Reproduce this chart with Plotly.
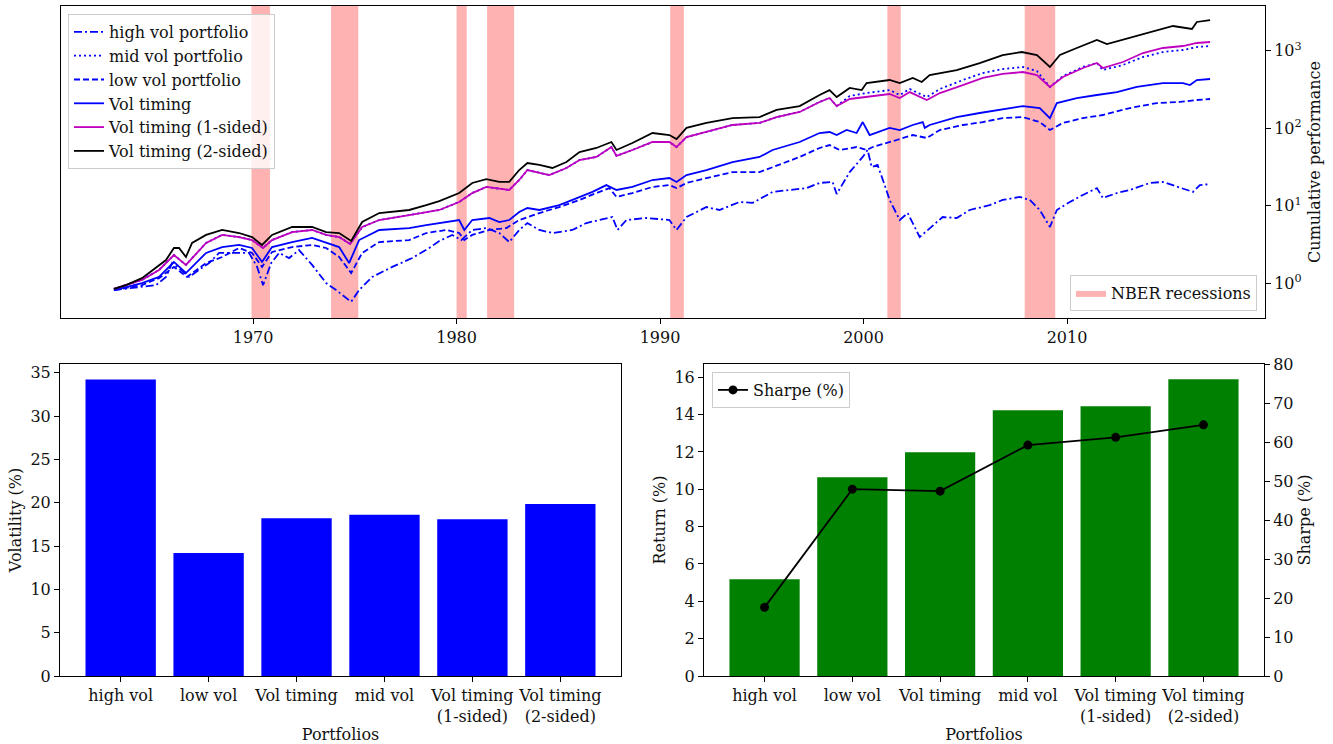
import plotly.graph_objects as go

# ---------------- data: cumulative performance (top panel) ----------------
hv_t = [1963.16,1964.54,1965.23,1965.72,1966.02,1966.46,1966.85,1967.34,1967.84,1968.33,1968.97,1969.80,1970.20,1970.49,1970.89,1971.28,1971.77,1972.26,1972.90,1973.59,1974.08,1974.48,1974.82,1975.21,1975.85,1976.84,1977.82,1978.66,1979.15,1979.79,1980.23,1980.77,1981.46,1982.10,1982.59,1983.08,1983.48,1984.07,1984.71,1985.69,1986.38,1987.02,1987.66,1987.91,1988.35,1989.33,1990.46,1990.81,1991.30,1992.28,1992.92,1993.91,1994.55,1995.53,1996.51,1997.20,1997.84,1998.48,1998.68,1999.32,1999.96,2000.20,2000.40,2000.69,2001.04,2001.28,2001.78,2002.17,2002.76,2003.25,2003.89,2004.58,2005.22,2006.20,2006.84,2007.68,2008.17,2008.66,2009.16,2009.50,2010.14,2010.78,2011.47,2011.76,2012.45,2013.09,2014.07,2014.71,2015.70,2016.19,2016.53,2017.03]
hv_v = [0.82,0.90,0.95,1.21,1.83,1.49,1.21,1.49,1.83,2.47,2.47,2.47,1.63,0.95,1.83,2.47,2.12,2.69,1.73,1.01,0.82,0.67,0.58,0.82,1.21,1.63,2.12,2.86,3.52,4.21,3.62,4.88,5.17,4.46,3.41,4.88,6.00,4.88,4.46,4.88,6.00,6.56,7.17,4.88,6.56,6.96,6.56,4.88,7.17,9.64,8.83,11.2,10.9,15.1,16.0,16.9,19.7,20.3,14.2,27.2,42.6,52.4,31.6,33.6,18.5,11.9,6.56,8.07,3.96,5.17,7.17,6.96,8.83,10.2,11.9,13.0,11.9,8.83,5.33,8.83,11.2,13.8,16.9,12.6,14.6,16.0,19.7,20.3,16.9,15.1,18.5,19.1]

one_t = [1963.16,1964.54,1965.38,1966.11,1966.70,1967.69,1968.48,1969.31,1969.95,1970.49,1970.93,1971.92,1972.90,1973.59,1974.23,1974.77,1975.36,1976.20,1977.67,1978.51,1979.15,1980.13,1980.77,1981.46,1982.59,1983.08,1983.48,1984.56,1985.40,1986.04,1986.87,1987.61,1987.86,1988.64,1989.63,1990.46,1990.81,1991.30,1992.28,1993.56,1994.89,1995.73,1996.86,1997.84,1998.33,1998.68,1999.32,2000.15,2001.28,2001.78,2002.27,2003.11,2003.75,2004.88,2005.86,2006.84,2007.83,2008.52,2009.16,2009.80,2010.78,2011.47,2011.76,2012.75,2013.73,2014.71,2015.70,2016.38,2017.03]
one_v = [0.85,1.11,1.49,2.32,1.73,3.32,4.21,3.96,3.62,2.86,3.62,4.59,4.88,4.21,3.96,3.22,5.33,6.56,7.60,8.32,8.83,11.2,14.6,17.5,16.0,21.5,28.9,24.9,30.7,38.9,42.6,57.2,43.9,52.4,66.4,66.4,57.2,77.0,89.3,110,117,139,162,218,245,193,238,252,276,245,292,231,284,360,444,500,530,485,340,457,597,692,597,713,931,1081,1146,1254,1292]
mv_v = [0.85,1.11,1.49,2.32,1.73,3.32,4.21,3.96,3.62,2.86,3.62,4.59,4.88,4.21,3.96,3.22,5.33,6.56,7.60,8.32,8.83,11.2,14.6,17.5,16.0,21.5,28.9,24.9,30.7,38.9,42.6,57.2,43.9,52.4,66.4,66.4,57.2,77.0,89.3,110,117,139,162,218,245,193,260,284,310,268,320,252,320,418,514,579,615,546,340,471,615,692,562,653,827,959,1018,1112,1146]

lv_t = [1963.16,1964.54,1965.38,1966.11,1966.75,1967.69,1968.48,1969.31,1969.95,1970.44,1970.93,1971.92,1972.90,1973.59,1974.23,1974.82,1975.36,1976.20,1977.67,1978.51,1979.49,1980.13,1980.38,1980.77,1981.61,1982.45,1983.08,1984.07,1985.05,1986.04,1986.87,1987.51,1987.86,1988.64,1989.63,1990.46,1990.81,1991.30,1992.28,1993.56,1994.89,1995.53,1996.86,1997.84,1998.33,1998.83,1999.66,2000.15,2000.45,2001.63,2002.42,2003.11,2003.75,2004.88,2005.86,2006.84,2007.83,2008.66,2009.16,2009.80,2010.78,2011.76,2013.09,2014.42,2015.55,2016.38,2017.03]
lv_v = [0.82,0.95,1.17,1.63,1.21,1.83,2.19,2.86,2.47,1.63,2.54,2.94,3.13,2.86,2.19,1.36,2.47,3.41,3.62,4.46,4.88,4.46,3.62,4.21,4.88,5.17,6.56,8.07,9.64,11.9,14.6,16.9,13.0,14.6,17.5,18.5,16.9,19.7,22.8,27.2,27.2,31.6,42.6,55.6,60.7,52.4,57.2,52.4,57.2,70.5,81.7,74.8,94.8,110,120,135,139,120,94.8,117,135,148,182,211,218,231,238]

vt_t = [1963.16,1964.54,1965.38,1966.11,1966.70,1967.69,1968.48,1969.31,1969.95,1970.44,1970.93,1971.92,1972.90,1973.59,1974.23,1974.72,1975.21,1976.20,1977.67,1978.51,1979.49,1980.13,1980.38,1980.77,1981.61,1982.10,1982.59,1983.08,1983.48,1984.07,1985.05,1985.69,1986.68,1987.36,1987.86,1988.64,1989.63,1990.46,1990.81,1991.30,1992.28,1993.56,1994.89,1995.53,1996.86,1997.84,1998.33,1998.68,1999.17,1999.66,1999.96,2000.30,2001.28,2001.78,2002.42,2002.91,2003.01,2003.25,2004.58,2005.71,2006.84,2007.83,2008.66,2009.16,2009.50,2010.48,2011.47,2012.45,2013.43,2014.71,2015.70,2016.04,2016.38,2017.03]
vt_v = [0.82,1.01,1.21,1.89,1.36,2.47,2.94,3.13,2.86,1.89,2.94,3.41,3.85,3.32,2.94,1.83,3.62,4.88,5.17,5.65,6.18,6.56,4.88,6.56,6.96,6.18,6.56,8.32,9.37,8.83,10.2,11.9,15.1,18.5,16.0,17.5,21.5,22.8,20.3,24.9,28.9,36.6,42.6,52.4,66.4,86.7,89.3,81.7,94.8,86.7,120,81.7,101,94.8,110,120,101,110,139,157,177,193,182,135,211,245,268,292,340,382,382,360,418,431]

two_t = [1963.16,1963.75,1964.54,1965.28,1965.72,1966.11,1966.36,1966.70,1967.00,1967.69,1968.48,1969.31,1969.95,1970.44,1970.93,1971.92,1972.90,1973.59,1974.23,1974.82,1975.36,1976.20,1977.67,1978.51,1979.15,1980.13,1980.77,1981.46,1982.10,1982.59,1983.08,1983.48,1984.07,1984.71,1985.40,1986.04,1986.87,1987.61,1987.86,1988.64,1989.63,1990.46,1990.81,1991.30,1992.28,1993.56,1994.89,1995.73,1996.86,1997.84,1998.33,1998.68,1999.32,1999.91,2000.15,2001.28,2001.78,2002.42,2002.86,2003.25,2004.58,2005.71,2006.84,2007.78,2008.52,2009.16,2009.65,2010.48,2011.47,2011.96,2013.09,2014.07,2015.21,2016.14,2016.38,2017.03]
two_v = [0.85,0.95,1.17,1.63,2.00,2.86,2.86,2.19,3.32,4.21,4.88,4.46,3.96,3.13,4.21,5.33,5.33,4.59,4.46,3.52,6.18,8.07,8.83,10.2,11.5,14.6,19.7,22.1,20.3,20.3,28.9,35.6,33.6,30.7,36.6,49.3,55.6,66.4,52.4,64.4,86.7,81.7,72.6,101,117,135,139,172,193,268,310,252,330,310,382,418,382,444,394,485,562,692,877,959,877,615,877,1081,1371,1217,1455,1738,2077,1901,2339,2477]

# NBER recessions (start, end) in decimal years
rec_start = [1969.92, 1973.83, 1980.00, 1981.50, 1990.50, 2001.17, 2007.92]
rec_end   = [1970.83, 1975.17, 1980.50, 1982.83, 1991.17, 2001.83, 2009.42]

# ---------------- data: bottom panels ----------------
portfolios = ["high vol", "low vol", "Vol timing", "mid vol", "Vol timing<br>(1-sided)", "Vol timing<br>(2-sided)"]
volatility = [34.2, 14.2, 18.2, 18.6, 18.1, 19.85]
returns = [5.18, 10.64, 11.98, 14.23, 14.45, 15.89]
sharpe = [17.6, 47.9, 47.4, 59.2, 61.2, 64.4]

log_ticks = [1, 10, 100, 1000]
log_tick_text = ["10<sup>0</sup>", "10<sup>1</sup>", "10<sup>2</sup>", "10<sup>3</sup>"]

FONT = "DejaVu Serif"
FS = 16
W, H = 1333, 744

fig = go.Figure()

# recession bands (one filled trace)
bx, by = [], []
for s, e in zip(rec_start, rec_end):
    bx += [s, s, e, e, s, None]
    by += [1e-3, 1e5, 1e5, 1e-3, 1e-3, None]
fig.add_trace(go.Scatter(x=bx, y=by, mode="lines", fill="toself",
                         fillcolor="rgba(255,0,0,0.3)", line=dict(width=0),
                         name="NBER recessions", legend="legend2",
                         xaxis="x", yaxis="y", hoverinfo="skip"))

lw = 1.8
series = [
    ("high vol portfolio", hv_t, hv_v, "#0000ff", "8px,3px,2px,3px"),
    ("mid vol portfolio", one_t, mv_v, "#0000ff", "2px,3px"),
    ("low vol portfolio", lv_t, lv_v, "#0000ff", "6px,3px"),
    ("Vol timing", vt_t, vt_v, "#0000ff", "solid"),
    ("Vol timing (1-sided)", one_t, one_v, "#bf00bf", "solid"),
    ("Vol timing (2-sided)", two_t, two_v, "#000000", "solid"),
]
for name, t, v, c, d in series:
    fig.add_trace(go.Scatter(x=t, y=v, mode="lines", name=name,
                             line=dict(color=c, width=lw, dash=d),
                             xaxis="x", yaxis="y", legend="legend"))

fig.add_trace(go.Bar(x=portfolios, y=volatility, marker_color="#0000ff",
                     marker_line_width=0, showlegend=False, xaxis="x2", yaxis="y2"))
fig.add_trace(go.Bar(x=portfolios, y=returns, marker_color="#008000",
                     marker_line_width=0, showlegend=False, xaxis="x3", yaxis="y3"))
fig.add_trace(go.Scatter(x=portfolios, y=sharpe, mode="lines+markers", name="Sharpe (%)",
                         line=dict(color="black", width=1.8),
                         marker=dict(color="black", size=9),
                         xaxis="x3", yaxis="y4", legend="legend3"))

axis_common = dict(showline=True, linecolor="black", linewidth=1, mirror=True,
                   ticks="outside", ticklen=5, tickcolor="black", showgrid=False,
                   zeroline=False, automargin=False,
                   tickfont=dict(family=FONT, size=FS, color="#111"))
title_font = dict(family=FONT, size=FS, color="#111")

top_y = [1 - 318 / H, 1 - 6 / H]
bot_y = [1 - 676 / H, 1 - 364 / H]

fig.update_layout(
    width=W, height=H, margin=dict(l=0, r=0, t=0, b=0),
    paper_bgcolor="white", plot_bgcolor="white",
    font=dict(family=FONT, size=FS, color="#111"),
    bargap=0.2,
    xaxis=dict(domain=[61 / W, 1265 / W], anchor="y", range=[1960.56, 2019.73],
               tick0=1970, dtick=10, **axis_common),
    yaxis=dict(domain=top_y, anchor="x", type="log", range=[-0.446, 3.575], side="right",
               tickvals=log_ticks, ticktext=log_tick_text,
               title=dict(text="Cumulative performance", font=title_font, standoff=8),
               **axis_common),
    xaxis2=dict(domain=[60 / W, 621 / W], anchor="y2", range=[-0.69, 5.69],
                title=dict(text="Portfolios", font=title_font, standoff=3), **axis_common),
    yaxis2=dict(domain=bot_y, anchor="x2", range=[0, 36], dtick=5,
                title=dict(text="Volatility (%)", font=title_font, standoff=4), **axis_common),
    xaxis3=dict(domain=[704 / W, 1264 / W], anchor="y3", range=[-0.69, 5.69],
                title=dict(text="Portfolios", font=title_font, standoff=3), **axis_common),
    yaxis3=dict(domain=bot_y, anchor="x3", range=[0, 16.71], dtick=2,
                title=dict(text="Return (%)", font=title_font, standoff=4), **axis_common),
    yaxis4=dict(overlaying="y3", anchor="x3", side="right", range=[0, 80], dtick=10,
                title=dict(text="Sharpe (%)", font=title_font, standoff=6),
                **{k: v for k, v in axis_common.items() if k != "mirror"}),
    legend=dict(x=68 / W, y=1 - 14 / H, xanchor="left", yanchor="top",
                bgcolor="rgba(255,255,255,0.8)", bordercolor="#cccccc", borderwidth=1,
                font=dict(family=FONT, size=FS, color="#111"), tracegroupgap=0),
    legend2=dict(x=1257 / W, y=1 - 311 / H, xanchor="right", yanchor="bottom",
                 bgcolor="rgba(255,255,255,0.8)", bordercolor="#cccccc", borderwidth=1,
                 font=dict(family=FONT, size=FS, color="#111")),
    legend3=dict(x=712 / W, y=1 - 372 / H, xanchor="left", yanchor="top",
                 bgcolor="rgba(255,255,255,0.8)", bordercolor="#cccccc", borderwidth=1,
                 font=dict(family=FONT, size=FS, color="#111")),
)

fig.write_html("out.html")
